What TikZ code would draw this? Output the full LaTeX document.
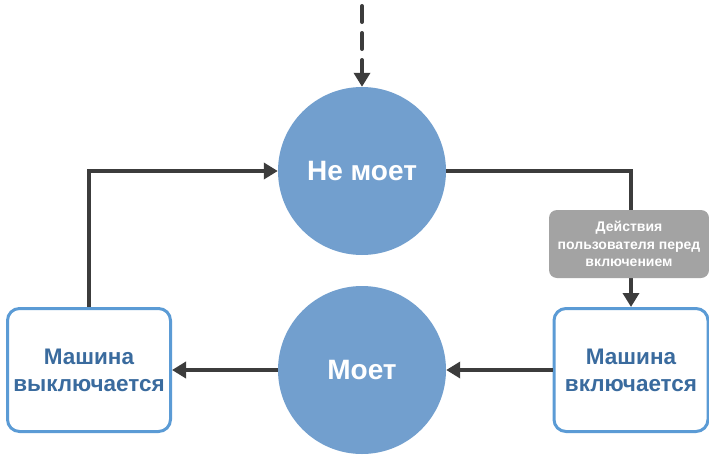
\documentclass[tikz,border=0pt]{standalone}
\usepackage{fontspec}
\setmainfont{Liberation Sans}
\usetikzlibrary{arrows.meta}
\definecolor{circfill}{HTML}{729FCE}
\definecolor{boxline}{HTML}{5B9BD5}
\definecolor{boxtext}{HTML}{3A6B9E}
\definecolor{conn}{HTML}{3C3C3C}
\definecolor{lblgray}{HTML}{A3A3A3}
\begin{document}
\begin{tikzpicture}[x=1pt,y=-1pt,
  statecirc/.style={circle, fill=circfill, minimum size=168pt, inner sep=0pt,
    text=white, font=\fontsize{28}{32}\selectfont\bfseries},
  actbox/.style={draw=boxline, line width=3pt, rounded corners=12pt, fill=white,
    minimum height=123pt, align=center, text=boxtext, inner sep=0pt,
    font=\fontsize{22.5}{27}\selectfont\bfseries},
  lblbox/.style={fill=lblgray, rounded corners=8pt, minimum width=160pt, minimum height=68pt,
    align=center, text=white, inner sep=0pt, font=\fontsize{14}{17.5}\selectfont\bfseries},
  conn/.style={draw=conn, line width=4pt, -{Triangle[length=14pt,width=16pt]}}
]
\useasboundingbox (0,0) rectangle (709,455);
\node[statecirc] (top) at (362,171) {Не моет};
\node[statecirc] (bot) at (362,370) {Моет};
\node[actbox, minimum width=163pt] (lbox) at (89,370) {Машина\\выключается};
\node[actbox, minimum width=154pt] (rbox) at (631,370) {Машина\\включается};
\coordinate (start) at (362,6);
\draw[conn, dash pattern=on 16pt off 11pt, line cap=round] (start) -- (top.north);
\draw[conn] (top.east) -| (rbox.north);
\draw[conn] (lbox.north) |- (top.west);
\draw[conn] (rbox.west) -- (bot.east);
\draw[conn] (bot.west) -- (lbox.east);
\node[lblbox] (lbl) at (629,244) {Действия\\пользователя перед\\включением};
\end{tikzpicture}
\end{document}
